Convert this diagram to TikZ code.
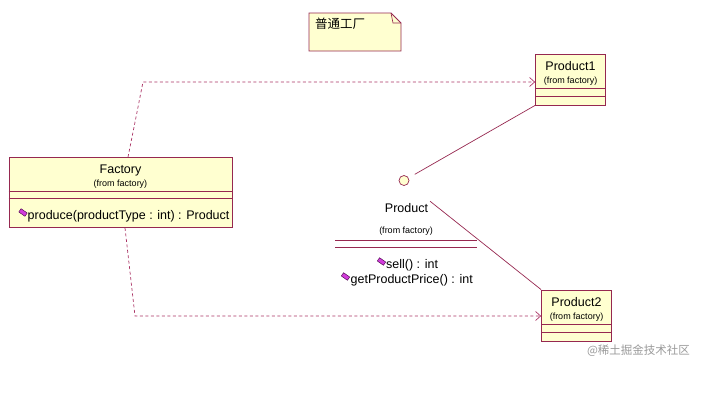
\documentclass[tikz,border=0pt]{standalone}
\usepackage{fontspec}
\setmainfont{Liberation Sans}
\newfontfamily\cjk{Noto Sans CJK SC}
\usetikzlibrary{arrows.meta, positioning, calc}
\definecolor{umlline}{RGB}{150,40,80}
\definecolor{umldash}{RGB}{170,50,100}
\definecolor{umlfill}{RGB}{255,255,208}
\definecolor{opfill}{RGB}{210,60,220}
\tikzset{
    classbox/.style={
        rectangle, draw=umlline, fill=umlfill,
        inner sep=0pt, line width=0.8pt
    },
    classname/.style={font=\fontsize{12.5}{14}\selectfont, inner sep=0pt},
    fromtag/.style={font=\fontsize{9}{10}\selectfont, inner sep=0pt},
    optext/.style={font=\fontsize{12.5}{14}\selectfont, inner sep=0pt, anchor=west},
    opicon/.style={
        rectangle, draw=violet!50!black, fill=opfill,
        minimum width=7.5pt, minimum height=4pt, inner sep=0pt, rotate=-35
    },
    lolly/.style={circle, draw=umlline, fill=umlfill, minimum size=10pt, inner sep=0pt, line width=0.7pt},
    compline/.style={draw=umlline, line width=0.8pt},
    dep/.style={draw=umldash, line width=0.7pt, dash pattern=on 3pt off 2.5pt, -{Straight Barb[length=5pt, width=9pt]}},
    real/.style={draw=umlline, line width=0.7pt},
    watermark/.style={font=\cjk\fontsize{11.5}{13}\selectfont, text=black!40, inner sep=0pt}
}

\begin{document}
\begin{tikzpicture}[x=1pt, y=-1pt]
    \useasboundingbox (0,0) rectangle (715,415);

    % note
    \draw[fill=umlfill, draw=umlline, line width=0.8pt]
        (309,13) -- (391,13) -- (401,23) -- (401,51) -- (309,51) -- cycle;
    \draw[umlline, line width=0.6pt] (391,13) -- (393,23) -- (401,23);
    \node[font=\cjk\fontsize{12.5}{14}\selectfont, inner sep=0pt, anchor=west] (note) at (315,23.5) {普通工厂};

    % classes
    \node[classbox, minimum width=223pt, minimum height=70pt] (factory) at (120.5,192.5) {};
    \node[classname] (factoryname) at ($(factory.north)+(0,13)$) {Factory};
    \node[fromtag] (factoryfrom) at ($(factory.north)+(0,27)$) {(from factory)};
    \draw[compline] ([yshift=-34pt]factory.north west) -- ([yshift=-34pt]factory.north east);
    \draw[compline] ([yshift=-41pt]factory.north west) -- ([yshift=-41pt]factory.north east);
    \node[opicon] (produceicon) at (23,212.5) {};
    \node[optext] (produce) at (27.5,216.5) {produce(productType : int) : Product};

    \node[classbox, minimum width=70pt, minimum height=51pt] (p1) at (570.5,79.5) {};
    \node[classname] (p1name) at ($(p1.north)+(0,12)$) {Product1};
    \node[fromtag] (p1from) at ($(p1.north)+(0,27.5)$) {(from factory)};
    \draw[compline] ([yshift=-35pt]p1.north west) -- ([yshift=-35pt]p1.north east);
    \draw[compline] ([yshift=-43pt]p1.north west) -- ([yshift=-43pt]p1.north east);

    \node[classbox, minimum width=70pt, minimum height=51pt] (p2) at (576.5,315.5) {};
    \node[classname] (p2name) at ($(p2.north)+(0,12)$) {Product2};
    \node[fromtag] (p2from) at ($(p2.north)+(0,27.5)$) {(from factory)};
    \draw[compline] ([yshift=-35pt]p2.north west) -- ([yshift=-35pt]p2.north east);
    \draw[compline] ([yshift=-43pt]p2.north west) -- ([yshift=-43pt]p2.north east);

    % interface Product
    \node[lolly] (iface) at (404,180.5) {};
    \node[classname] (ifacename) at (406.5,208.5) {Product};
    \node[fromtag] (ifacefrom) at (406,231.5) {(from factory)};
    \draw[compline] (335,240) -- (476.5,240);
    \draw[compline] (335,247.5) -- (476.5,247.5);
    \node[opicon] (sellicon) at (381.5,261.5) {};
    \node[optext] (sell) at (386,265.5) {sell() : int};
    \node[opicon] (priceicon) at (345.5,276.5) {};
    \node[optext] (price) at (350.5,280.5) {getProductPrice() : int};

    % realization
    \draw[real, shorten <=7pt] (iface) -- (p1.south west);
    \draw[real, shorten <=28pt] (iface) -- (p2.north west);

    % dependencies
    \coordinate (bendtop) at (143,82);
    \coordinate (bendbot) at (135,316);
    \draw[dep] ([xshift=7.5pt]factory.north) -- (bendtop) -- (p1.west |- bendtop);
    \draw[dep] ([xshift=4.5pt]factory.south) -- (bendbot) -- (p2.west |- bendbot);

    \node[watermark] (mark) at (638.5,351) {@稀土掘金技术社区};
\end{tikzpicture}
\end{document}
